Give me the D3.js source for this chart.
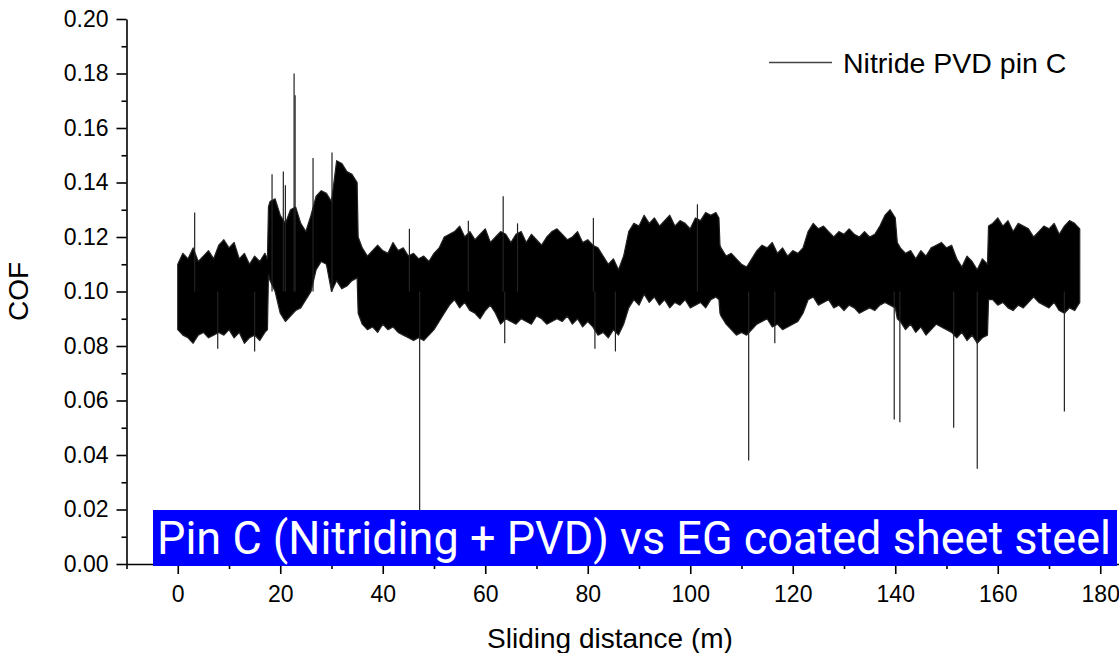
<!DOCTYPE html>
<html>
<head>
<meta charset="utf-8">
<script src="https://cdn.jsdelivr.net/npm/d3@7"></script>
<style>
  body { margin: 0; background: #fff; }
  svg { display: block; font-family: "Liberation Sans", Arial, sans-serif; }
</style>
</head>
<body>
<svg id="chart" width="1119" height="653"></svg>
<script>
// envelope of the COF trace (upper / lower edge of the dense band)
const distance = [
  0, 1, 2, 3, 4, 5, 6, 7, 8, 9,
  10, 11, 12, 13, 14, 15, 16, 17, 17.5, 17.7,
  18, 19, 20, 21, 22, 23, 24, 25, 26, 27,
  28, 29, 30, 31, 32, 33, 34, 35, 35.2, 36,
  37, 38, 39, 40, 41, 42, 43, 44, 45, 46,
  47, 48, 49, 50, 51, 52, 53, 54, 55, 56,
  57, 58, 59, 60, 61, 62, 63, 64, 65, 66,
  67, 68, 69, 70, 71, 72, 73, 74, 75, 76,
  77, 78, 79, 80, 81, 82, 83, 84, 85, 86,
  87, 88, 89, 90, 91, 92, 93, 94, 95, 96,
  97, 98, 99, 100, 101, 102, 103, 104, 105, 105.6,
  105.8, 106, 107, 108, 109, 110, 111, 112, 113, 114,
  115, 116, 117, 118, 119, 120, 121, 122, 123, 124,
  125, 126, 127, 128, 129, 130, 131, 132, 133, 134,
  135, 136, 137, 138, 139, 140, 140.4, 141, 142, 143,
  144, 145, 146, 147, 148, 149, 150, 151, 152, 153,
  154, 155, 156, 157, 158, 158.2, 159, 160, 161, 162,
  163, 164, 165, 166, 167, 168, 169, 170, 171, 172,
  173, 174, 175, 176
];
const cofHigh = [
  .110, .114, .112, .116, .111, .113, .115, .112, .117, .119,
  .116, .118, .112, .114, .110, .113, .111, .114, .112, .131,
  .133, .134, .128, .125, .130, .131, .125, .122, .128, .135,
  .137, .136, .133, .148, .147, .144, .143, .140, .120, .116,
  .113, .115, .117, .115, .114, .118, .115, .116, .113, .114,
  .112, .113, .111, .114, .116, .120, .121, .122, .124, .120,
  .122, .119, .121, .123, .118, .120, .122, .121, .118, .121,
  .122, .118, .121, .119, .117, .120, .122, .123, .121, .119,
  .120, .122, .118, .119, .117, .116, .113, .110, .112, .108,
  .113, .122, .125, .124, .128, .125, .127, .124, .126, .128,
  .124, .126, .125, .123, .127, .126, .129, .128, .129, .127,
  .117, .116, .113, .114, .112, .110, .109, .112, .115, .117,
  .116, .118, .114, .116, .113, .115, .114, .116, .122, .125,
  .123, .124, .122, .120, .122, .121, .123, .121, .120, .122,
  .120, .121, .124, .128, .130, .127, .118, .116, .114, .115,
  .112, .115, .113, .116, .117, .118, .116, .117, .112, .109,
  .113, .111, .108, .112, .110, .124, .125, .127, .124, .126,
  .122, .125, .124, .123, .120, .122, .124, .123, .125, .121,
  .124, .126, .125, .123
];
const cofLow = [
  .086, .084, .083, .081, .084, .085, .083, .084, .085, .084,
  .086, .083, .085, .081, .083, .084, .082, .085, .086, .106,
  .104, .100, .092, .089, .091, .093, .094, .097, .100, .108,
  .111, .110, .100, .104, .101, .102, .104, .105, .092, .088,
  .086, .087, .085, .088, .086, .087, .085, .084, .083, .082,
  .083, .082, .084, .086, .089, .092, .095, .097, .094, .096,
  .093, .092, .090, .093, .095, .092, .088, .090, .089, .088,
  .090, .089, .088, .091, .090, .088, .089, .090, .089, .091,
  .088, .090, .087, .089, .087, .084, .085, .083, .086, .084,
  .088, .094, .097, .095, .099, .096, .098, .095, .097, .094,
  .096, .095, .097, .094, .095, .096, .094, .097, .098, .097,
  .092, .091, .088, .086, .084, .085, .084, .086, .088, .089,
  .090, .087, .088, .086, .087, .088, .089, .092, .097, .098,
  .095, .096, .097, .094, .095, .093, .095, .094, .092, .093,
  .094, .093, .095, .096, .095, .094, .090, .089, .086, .088,
  .085, .087, .084, .086, .088, .087, .086, .085, .083, .085,
  .082, .084, .081, .083, .084, .097, .097, .095, .096, .094,
  .093, .095, .094, .096, .098, .096, .095, .094, .096, .093,
  .092, .094, .093, .096
];

// isolated single-sample spikes
const spikeDistance = [3.3, 18.4, 20.6, 21.0, 22.7, 22.9, 26.4, 30.1, 45.2, 56.7, 63.5, 66.3, 81.1, 101.4,
                       7.8, 15.0, 47.2, 63.8, 81.4, 85.4, 111.4, 116.5, 139.8, 140.9, 151.4, 156.0, 173.0];
const spikeCof = [.129, .143, .144, .139, .180, .172, .149, .151, .123, .126, .135, .125, .127, .132,
                  .079, .078, .015, .081, .079, .078, .038, .081, .053, .052, .050, .035, .056];

const xTicks = [0, 20, 40, 60, 80, 100, 120, 140, 160, 180];
const xMinor = [-10, 10, 30, 50, 70, 90, 110, 130, 150, 170];
const yTicks = [0, 0.02, 0.04, 0.06, 0.08, 0.10, 0.12, 0.14, 0.16, 0.18, 0.20];
const yMinor = [0.01, 0.03, 0.05, 0.07, 0.09, 0.11, 0.13, 0.15, 0.17, 0.19];

const seriesName = "Nitride PVD pin C";
const banner = "Pin C (Nitriding + PVD) vs EG coated sheet steel";

const svg = d3.select("#chart");

const x = d3.scaleLinear().domain([-10, 184]).range([126.5, 1120.75]);
const y = d3.scaleLinear().domain([0, 0.20]).range([564, 19]);

const band = distance.map((d, i) => ({d: d, hi: cofHigh[i], lo: cofLow[i]}));

// the trace
svg.append("path")
  .datum(band)
  .attr("fill", "#000")
  .attr("stroke", "#222")
  .attr("stroke-width", 1.2)
  .attr("stroke-linejoin", "round")
  .attr("d", d3.area()
    .x(d => x(d.d))
    .y0(d => y(d.lo))
    .y1(d => y(d.hi)));

svg.append("g")
  .selectAll("line")
  .data(spikeDistance.map((d, i) => ({d: d, v: spikeCof[i]})))
  .join("line")
    .attr("x1", d => x(d.d))
    .attr("x2", d => x(d.d))
    .attr("y1", y(0.10))
    .attr("y2", d => y(d.v))
    .attr("stroke", "#222")
    .attr("stroke-width", 1.2);

// axes
const fmt = d3.format(".2f");
const yAxis = svg.append("g")
  .attr("transform", `translate(${x(-10)},0)`)
  .call(d3.axisLeft(y).tickValues(yTicks).tickFormat(fmt).tickSize(10).tickPadding(8).tickSizeOuter(0));
svg.append("g")
  .attr("transform", `translate(${x(-10)},0)`)
  .call(d3.axisLeft(y).tickValues(yMinor).tickFormat("").tickSize(5).tickSizeOuter(0))
  .select(".domain").remove();

const xAxis = svg.append("g")
  .attr("transform", `translate(0,${y(0)})`)
  .call(d3.axisBottom(x).tickValues(xTicks).tickSize(10).tickPadding(12).tickSizeOuter(0));
svg.append("g")
  .attr("transform", `translate(0,${y(0)})`)
  .call(d3.axisBottom(x).tickValues(xMinor).tickFormat("").tickSize(5).tickSizeOuter(0))
  .select(".domain").remove();

svg.selectAll(".tick line, .domain").attr("stroke", "#000").attr("stroke-width", 1.6);
[yAxis, xAxis].forEach(a => a.selectAll("text")
  .attr("font-size", 23)
  .attr("font-family", "'Liberation Sans', Arial, sans-serif")
  .attr("fill", "#000"));

// axis titles
svg.append("text")
  .attr("transform", `translate(28,${y(0.10)}) rotate(-90)`)
  .attr("text-anchor", "middle")
  .attr("font-size", 28)
  .text("COF");

svg.append("text")
  .attr("x", 610)
  .attr("y", 648)
  .attr("text-anchor", "middle")
  .attr("font-size", 28)
  .text("Sliding distance (m)");

// legend
svg.append("line")
  .attr("x1", 769).attr("x2", 832)
  .attr("y1", 62.5).attr("y2", 62.5)
  .attr("stroke", "#444")
  .attr("stroke-width", 1.3);
svg.append("text")
  .attr("x", 843)
  .attr("y", 73)
  .attr("font-size", 28.5)
  .text(seriesName);

// blue banner over the bottom of the plot
svg.append("rect")
  .attr("x", 153).attr("y", 510)
  .attr("width", 964).attr("height", 56)
  .attr("fill", "#0000ff");
svg.append("text")
  .attr("x", 157)
  .attr("y", 554)
  .attr("fill", "#fff")
  .attr("font-family", "Roboto, 'Liberation Sans', sans-serif")
  .attr("font-size", 46)
  .attr("textLength", 954)
  .attr("lengthAdjust", "spacingAndGlyphs")
  .text(banner);
</script>
</body>
</html>
